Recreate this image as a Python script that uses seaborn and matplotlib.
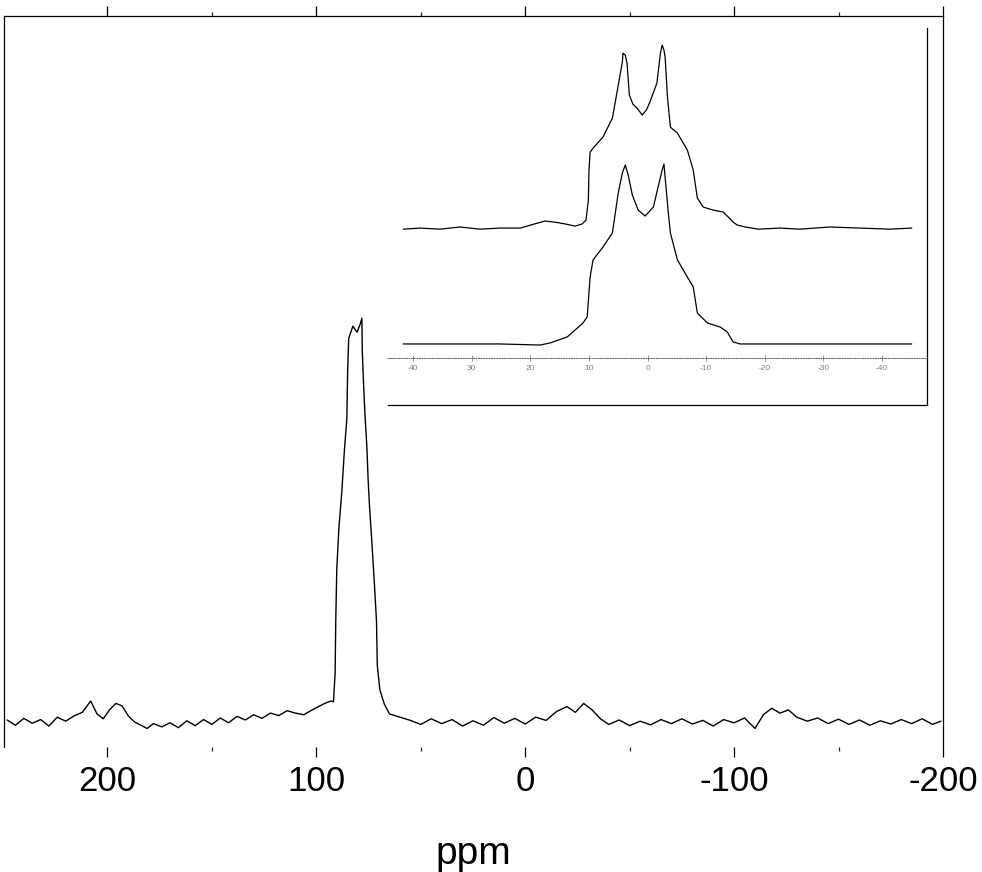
import numpy as np
import matplotlib
matplotlib.use("Agg")
import matplotlib.pyplot as plt
import seaborn as sns
from matplotlib.ticker import MultipleLocator

sns.set_theme(style="ticks")
plt.rcParams["font.family"] = ["Liberation Sans", "DejaVu Sans"]

# main spectrum (ppm, intensity; peak = 100)
main_ppm = [248, 244, 240, 236, 232, 228, 224, 220, 216, 212, 208, 205, 202, 199, 196,
            193, 190, 187, 184, 181, 178, 174, 170, 166, 162, 158, 154, 150, 146, 142,
            138, 134, 130, 126, 122, 118, 114, 110, 106, 102, 99, 96, 93, 91.8, 91.0,
            90.7, 90.2, 89.2, 87.8, 86.6, 85.4, 85.0, 84.5, 82.5, 80.5, 79.0, 78.2, 78.0,
            77.5, 76.8, 75.8, 75.2, 74.6, 73.6, 72.4, 71.2, 70.8, 69.6, 67.5, 65, 60,
            55, 50, 45, 40, 35, 30, 25, 20, 15, 10, 5, 0, -5, -10, -15, -20, -24, -28,
            -32, -36, -40, -45, -50, -55, -60, -65, -70, -75, -80, -85, -90, -95, -100,
            -105, -110, -114, -118, -122, -126, -130, -135, -140, -145, -150, -155, -160,
            -165, -170, -175, -180, -185, -190, -195, -199]
main_int = [0.5, -0.8, 0.9, -0.3, 0.6, -1.0, 1.2, 0.2, 1.5, 2.4, 5.2, 2.0, 0.8, 3.0, 4.6,
            4.0, 1.5, 0.0, -0.8, -1.6, -0.4, -1.2, -0.2, -1.4, 0.3, -0.9, 0.6, -0.6, 1.0, -0.2,
            1.4, 0.5, 1.8, 0.9, 2.2, 1.6, 2.8, 2.2, 1.8, 3.0, 3.8, 4.6, 5.2, 5.0, 12,
            25, 38, 48, 57, 67, 75, 87, 95, 98, 96.5, 98.5, 100, 92,
            85, 77, 68, 60, 54, 46, 36, 25, 14, 8, 4.5, 2.0, 1.2,
            0.4, -0.6, 0.8, -0.4, 0.6, -1.0, 0.3, -0.8, 1.1, -0.3, 0.9, -0.5, 1.2, 0.4, 2.6, 3.8, 2.4, 4.6,
            3.0, 0.8, -0.6, 0.5, -0.9, 0.2, -0.7, 0.6, -0.4, 0.8, -0.5, 0.4, -1.0, 0.6, -0.2,
            1.0, -1.6, 1.8, 3.4, 2.2, 3.0, 1.2, 0.2, 1.0, -0.4, 0.7, -0.6, 0.5,
            -0.8, 0.3, -0.5, 0.6, -0.4, 0.8, -0.6, 0.2]
main_ticks = [200, 100, 0, -100, -200]
main_ticklabels = ["200", "100", "0", "-100", "-200"]

# inset: two stacked spectra (kHz, intensity)
upper_khz = [41.7, 38.8, 35.4, 32.0, 28.6, 25.2, 21.7, 19.4, 17.5, 15.8, 13.9, 12.4, 11.2,
             10.5, 10.1, 10.0, 9.8, 9.3, 7.6, 6.0, 5.0, 4.3, 4.2, 3.8, 3.5, 3.1, 2.5, 1.8,
             0.9, 0.2, -0.4, -1.6, -2.2, -2.5, -2.8, -3.0, -3.4, -3.9, -5.1, -6.8, -7.8,
             -8.5, -9.5, -11.2, -12.9, -13.8, -14.6, -15.3, -16.7, -18.9, -22.6, -26.0,
             -31.1, -36.3, -41.4, -45.1]
upper_int = [-0.6, 0, -0.6, 0.6, -0.6, 0, 0, 2.2, 3.9, 3.3, 2.2, 1.1, 2.2,
             4.4, 15.6, 32.2, 42.2, 44.4, 50.6, 61.1, 79.4, 92.2, 97.2, 96.1, 91.7, 73.9, 68.9, 66.7,
             62.8, 65.6, 70.0, 80.6, 97.2, 101.7, 98.9, 95.0, 72.8, 56.1, 52.8, 43.3, 32.2,
             16.7, 11.7, 10.0, 8.9, 6.1, 3.3, 1.7, 0.6, -0.6, 0, -0.6,
             0.6, 0, -0.6, 0]
lower_khz = [41.7, 33.7, 25.2, 18.3, 16.6, 13.7, 11.0, 10.3, 9.8, 9.3, 7.6, 6.0, 5.0, 4.3,
             3.8, 3.3, 2.6, 1.6, 0.4, -1.0, -1.8, -2.5, -2.8, -3.5, -3.9, -5.1, -6.8, -7.8,
             -8.5, -10.2, -12.4, -13.6, -14.6, -15.8, -22.6, -34.6, -45.1]
lower_int = [0, 0, 0, -0.6, 0.6, 3.9, 11.7, 15.0, 37.2, 46.7, 53.9, 61.7, 83.9, 95.0,
             99.4, 93.9, 82.8, 74.4, 71.1, 76.1, 87.2, 96.7, 100, 74.4, 61.7, 46.7, 37.2, 31.7,
             17.2, 11.7, 9.4, 6.7, 1.1, 0, 0, 0, 0]
inset_ticks = [40, 30, 20, 10, 0, -10, -20, -30, -40]
inset_ticklabels = ["40", "30", "20", "10", "0", "-10", "-20", "-30", "-40"]
upper_offset = 64.4

fig = plt.figure(figsize=(9.82, 8.72), dpi=100)

# --- main spectrum
ax = fig.add_axes([0.0041, 0.1433, 0.9562, 0.8383])
sns.lineplot(x=main_ppm, y=main_int, ax=ax, color="black", linewidth=1.0,
             sort=False, estimator=None)
ax.set_xlim(249.5, -200)
ax.set_ylim(-6.2, 174.8)
ax.set_xticks(main_ticks, labels=main_ticklabels)
ax.xaxis.set_minor_locator(MultipleLocator(50))
ax.tick_params(axis="x", which="major", direction="out", length=7, width=0.9,
               labelsize=25, pad=6, top=True, colors="black")
ax.tick_params(axis="x", which="minor", direction="out", length=3, width=0.9, top=True)
ax.set_yticks([])
ax.spines["bottom"].set_visible(False)
for s in ["top", "left", "right"]:
    ax.spines[s].set_linewidth(0.9)
    ax.spines[s].set_color("black")
ax.set_xlabel("ppm", fontsize=28, labelpad=27, color="black")

# --- inset
axin = fig.add_axes([0.3951, 0.5356, 0.5489, 0.4323])
axin.set_facecolor("white")
sns.lineplot(x=upper_khz, y=np.array(upper_int) + upper_offset, ax=axin, color="black",
             linewidth=0.9, sort=False, estimator=None)
sns.lineplot(x=lower_khz, y=lower_int, ax=axin, color="black", linewidth=0.9,
             sort=False, estimator=None)
axin.set_xlim(44.3, -47.7)
axin.set_ylim(-33.9, 175.6)
axin.set_xticks([])
axin.set_yticks([])
axin.spines["top"].set_visible(False)
axin.spines["left"].set_visible(False)
for s in ["bottom", "right"]:
    axin.spines[s].set_linewidth(0.9)
    axin.spines[s].set_color("black")

sec = axin.secondary_xaxis(0.1247)
sec.set_xticks(inset_ticks, labels=inset_ticklabels)
sec.spines["bottom"].set_linestyle(":")
sec.spines["bottom"].set_linewidth(0.7)
sec.spines["bottom"].set_color("0.35")
sec.tick_params(axis="x", direction="inout", length=4, width=0.6, labelsize=6,
                pad=3, colors="0.5")

fig.savefig("out.png", dpi=100)
